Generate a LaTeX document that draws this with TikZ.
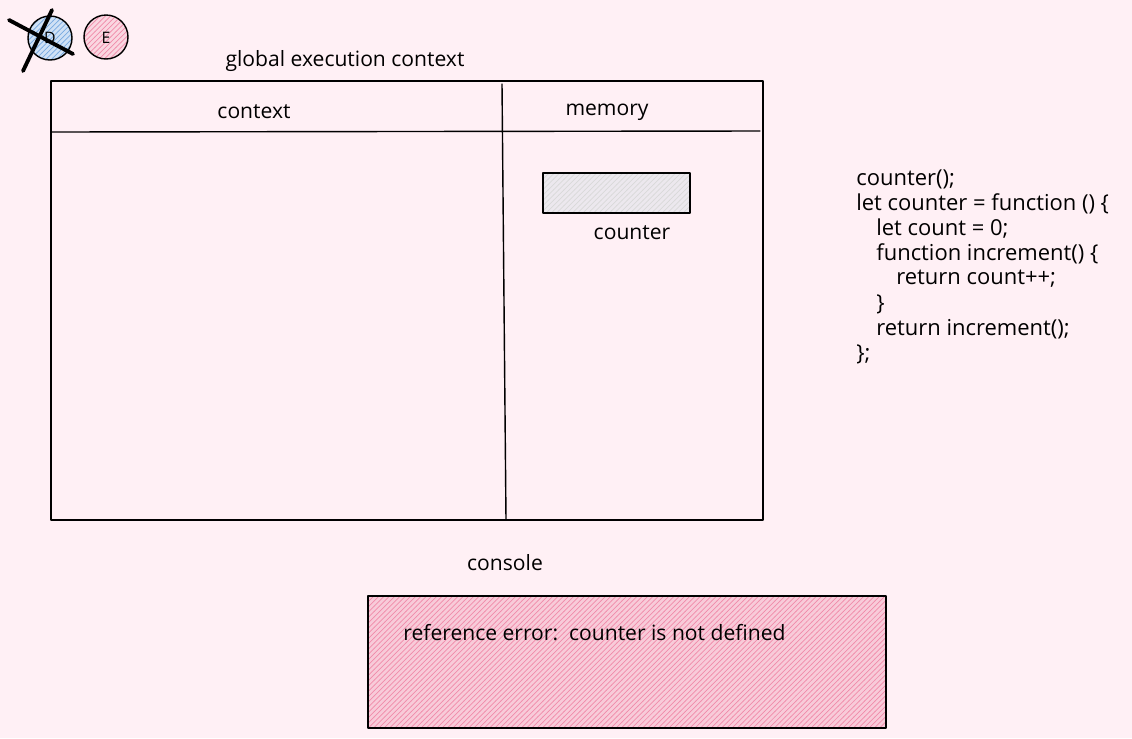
\documentclass[tikz,border=0pt]{standalone}
\usepackage{fontspec}
\setmainfont{Open Sans}
\usetikzlibrary{patterns}
\definecolor{bgpink}{RGB}{255,240,245}
\definecolor{hatchpink}{RGB}{240,140,170}
\definecolor{hatchblue}{RGB}{120,170,225}
\definecolor{memgrey}{RGB}{236,232,238}
\tikzset{
	lbl/.style={inner sep=0pt,font=\fontsize{12}{14}\selectfont},
	codeline/.style={inner sep=0pt,anchor=west,font=\fontsize{12.5}{14}\selectfont}
}
\begin{document}
\begin{tikzpicture}[x=0.02cm,y=-0.02cm,line join=round,line cap=round]
	% === nền ===
	\fill[bgpink] (0,0) rectangle (1132,738);
	\useasboundingbox (0,0) rectangle (1132,738);
	% === hai vòng tròn ===
	\fill[hatchblue!35] (50,38) circle(22);
	\fill[pattern=north east lines,pattern color=hatchblue] (50,38) circle(22);
	\draw[thick] (50,38) circle(22);
	\node[lbl,font=\fontsize{9}{10}\selectfont] (d) at (50,38) {D};
	\fill[hatchpink!35] (106,37) circle(22);
	\fill[pattern=north east lines,pattern color=hatchpink] (106,37) circle(22);
	\draw[thick] (106,37) circle(22);
	\node[lbl,font=\fontsize{9}{10}\selectfont] (e) at (106,38) {E};
	\draw[line width=2.2pt] (9,20)--(73,54) (52,10)--(23,71);
	% === global execution context ===
	\node[lbl] (gec) at (345,61) {global execution context};
	\draw[thick] (51,81) rectangle (763,520);
	\draw[thick] (51,132)--(760,131);
	\draw[thick] (502,84)--(506,520);
	\node[lbl] (ctx) at (254,112) {context};
	\node[lbl] (mem) at (607,112) {memory};
	\fill[memgrey] (543,173) rectangle (690,213);
	\fill[pattern=north east lines,pattern color=black!15] (543,173) rectangle (690,213);
	\draw[thick] (543,173) rectangle (690,213);
	\node[lbl] (cnt) at (632,233) {counter};
	% === code ===
	\node[codeline] (c1) at (856,179) {counter();};
	\node[codeline] (c2) at (856,204) {let counter = function () \{};
	\node[codeline] (c3) at (876,229) {let count = 0;};
	\node[codeline] (c4) at (876,254) {function increment() \{};
	\node[codeline] (c5) at (896,279) {return count++;};
	\node[codeline] (c6) at (876,304) {\}};
	\node[codeline] (c7) at (876,329) {return increment();};
	\node[codeline] (c8) at (856,354) {\};};
	% === console ===
	\node[lbl] (con) at (505,563) {console};
	\fill[hatchpink!45] (368,596) rectangle (886,728);
	\fill[pattern=north east lines,pattern color=hatchpink] (368,596) rectangle (886,728);
	\draw[thick] (368,596) rectangle (886,728);
	\node[codeline,font=\fontsize{12}{14}\selectfont] (err) at (403,633) {reference error:\ \ counter is not defined};
\end{tikzpicture}
\end{document}
